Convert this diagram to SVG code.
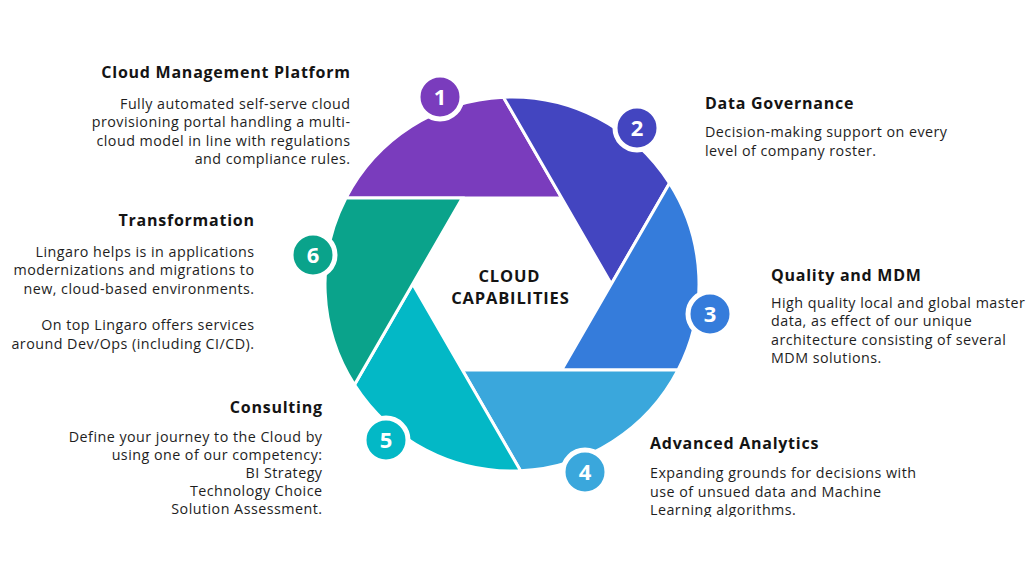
<svg xmlns="http://www.w3.org/2000/svg" width="1036" height="582" viewBox="0 0 1036 582">
<style>
.t{font-family:"Open Sans","Liberation Sans",sans-serif;font-weight:700;font-size:16px;letter-spacing:0.75px;fill:#141414}
.b{font-family:"Open Sans","Liberation Sans",sans-serif;font-size:14.3px;letter-spacing:0.47px;fill:#1e1e1e}
.r{text-anchor:end}
.c{font-family:"Open Sans","Liberation Sans",sans-serif;font-weight:700;font-size:16.5px;letter-spacing:0.85px;fill:#141414;text-anchor:middle}
.n{font-family:"Open Sans","Liberation Sans",sans-serif;font-weight:700;font-size:22px;fill:#fff;text-anchor:middle}
.blade{stroke:#fff;stroke-width:3;stroke-linejoin:miter}
.ring{stroke:#fff;stroke-width:5}
</style>
<defs>
<path id="blade" d="M561.65,198 L345.95,198 A187,187 0 0 1 503.45,97.2 Z"/>
<clipPath id="clipAA"><rect x="600" y="420" width="436" height="97"/></clipPath>
</defs>
<rect width="1036" height="582" fill="#fff"/>
<g id="wheel">
<use href="#blade" class="blade" fill="#7a3cbd"/>
<use href="#blade" class="blade" fill="#4345c0" transform="rotate(60 512 284)"/>
<use href="#blade" class="blade" fill="#357cdb" transform="rotate(120 512 284)"/>
<use href="#blade" class="blade" fill="#3aa7dc" transform="rotate(180 512 284)"/>
<use href="#blade" class="blade" fill="#03b8c6" transform="rotate(240 512 284)"/>
<use href="#blade" class="blade" fill="#0aa38b" transform="rotate(300 512 284)"/>
</g>
<g id="center">
<text class="c" x="509.4" y="282">CLOUD</text>
<text class="c" x="510.4" y="304">CAPABILITIES</text>
</g>
<g id="node1">
<circle class="ring" cx="440" cy="97" r="22" fill="#7a3cbd"/>
<text class="n" x="440" y="105">1</text>
<text class="t r" x="350.7" y="78">Cloud Management Platform</text>
<text class="b r" x="350.5" y="109">Fully automated self-serve cloud</text>
<text class="b r" x="350.5" y="127.3">provisioning portal handling a multi-</text>
<text class="b r" x="350.5" y="145.7">cloud model in line with regulations</text>
<text class="b r" x="350.5" y="164">and compliance rules.</text>
</g>
<g id="node2">
<circle class="ring" cx="637" cy="128" r="22" fill="#4345c0"/>
<text class="n" x="637" y="136">2</text>
<text class="t" x="705" y="108.5">Data Governance</text>
<text class="b" x="705" y="137">Decision-making support on every</text>
<text class="b" x="705" y="155.5">level of company roster.</text>
</g>
<g id="node3">
<circle class="ring" cx="710" cy="314" r="22" fill="#357cdb"/>
<text class="n" x="710" y="322">3</text>
<text class="t" x="771" y="281">Quality and MDM</text>
<text class="b" x="771" y="307.5">High quality local and global master</text>
<text class="b" x="771" y="326">data, as effect of our unique</text>
<text class="b" x="771" y="344.5">architecture consisting of several</text>
<text class="b" x="771" y="363">MDM solutions.</text>
</g>
<g id="node4">
<circle class="ring" cx="585" cy="472" r="22" fill="#3aa7dc"/>
<text class="n" x="585" y="480">4</text>
<text class="t" x="650" y="448.5">Advanced Analytics</text>
<g clip-path="url(#clipAA)">
<text class="b" x="650" y="478">Expanding grounds for decisions with</text>
<text class="b" x="650" y="496.5">use of unsued data and Machine</text>
<text class="b" x="650" y="515">Learning algorithms.</text>
</g>
</g>
<g id="node5">
<circle class="ring" cx="386" cy="440" r="22" fill="#03b8c6"/>
<text class="n" x="386" y="448">5</text>
<text class="t r" x="322.7" y="412.5">Consulting</text>
<text class="b r" x="322.5" y="442">Define your journey to the Cloud by</text>
<text class="b r" x="322.5" y="460">using one of our competency:</text>
<text class="b r" x="322.5" y="478">BI Strategy</text>
<text class="b r" x="322.5" y="496">Technology Choice</text>
<text class="b r" x="322.5" y="514">Solution Assessment.</text>
</g>
<g id="node6">
<circle class="ring" cx="313" cy="255" r="22" fill="#0aa38b"/>
<text class="n" x="313" y="263">6</text>
<text class="t r" x="254.7" y="226">Transformation</text>
<text class="b r" x="254.5" y="256.5">Lingaro helps is in applications</text>
<text class="b r" x="254.5" y="275">modernizations and migrations to</text>
<text class="b r" x="254.5" y="293.5">new, cloud-based environments.</text>
<text class="b r" x="254.5" y="330">On top Lingaro offers services</text>
<text class="b r" x="254.5" y="348.5">around Dev/Ops (including CI/CD).</text>
</g>
</svg>
